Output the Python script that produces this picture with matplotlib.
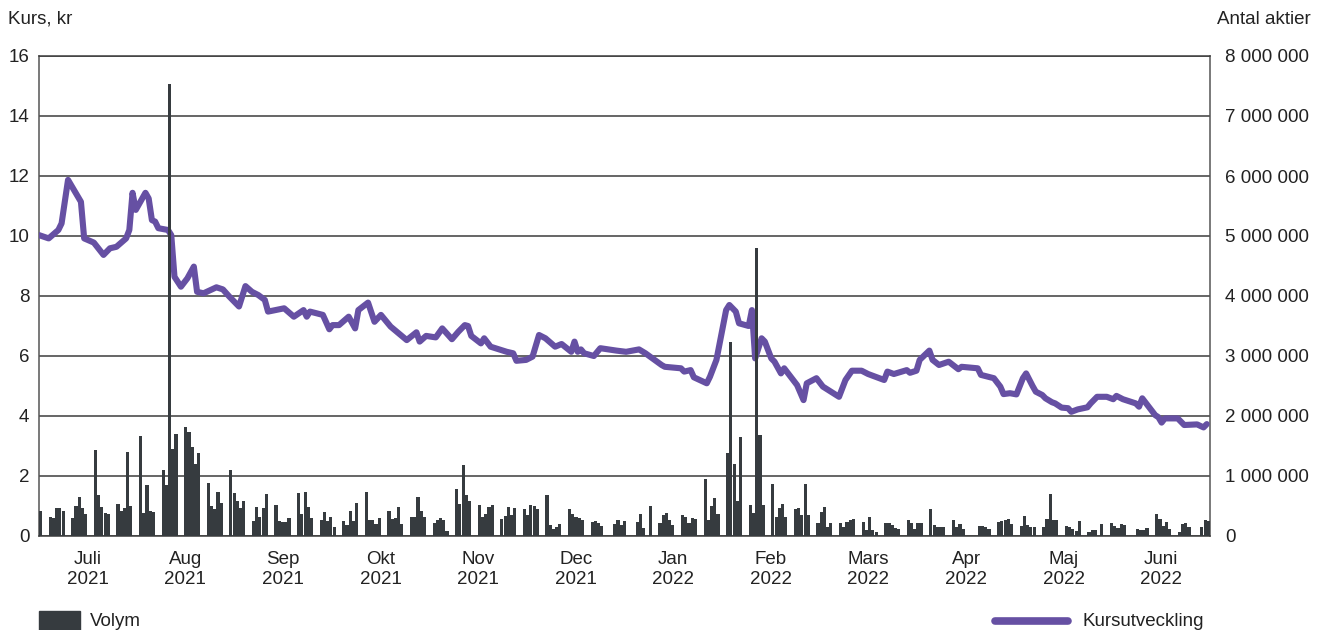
import matplotlib
matplotlib.use('Agg')
import matplotlib.pyplot as plt
import matplotlib.dates as mdates
from matplotlib.ticker import FuncFormatter, MultipleLocator
from matplotlib.patches import Rectangle
from matplotlib.lines import Line2D
import pandas as pd

plt.rcParams['font.family'] = ['Liberation Sans', 'DejaVu Sans']

LILA = '#6650a3'
GRA = '#363b3f'
GRID = '#3c3c3c'

# Handelsdagar (Stockholmsbörsen) och helgdagar då börsen var stängd
start, slut = '2021-07-02', '2022-06-29'
helgdagar = ['2021-12-24', '2021-12-31', '2022-01-06', '2022-04-15',
             '2022-04-18', '2022-05-26', '2022-06-06', '2022-06-24']

# Volym per handelsdag, tusentals aktier
volym_tusen = [
    415,
    310, 300, 460, 460, 425,
    300, 495, 655, 465, 365,
    1435, 685, 485, 385, 370,
    535, 420, 460, 1400, 505,
    1660, 390, 850, 420, 400,
    1100, 850, 7535, 1455, 1700,
    1825, 1735, 1490, 1200, 1380,
    880, 505, 450, 735, 550,
    1100, 710, 590, 460, 580,
    250, 480, 315, 460, 705,
    515, 255, 235, 235, 300,
    710, 360, 735, 480, 300,
    265, 400, 245, 315, 150,
    250, 180, 425, 255, 550,
    730, 260, 275, 205, 300,
    420, 280, 295, 485, 200,
    310, 320, 655, 425, 315,
    215, 260, 300, 265, 80,
    790, 530, 1185, 680, 590,
    515, 315, 370, 490, 515,
    280, 335, 480, 350, 465,
    455, 350, 515, 500, 455,
    685, 185, 115, 150, 195,
    455, 360, 315, 300, 265,
    235, 245, 215, 170,
    195, 260, 190, 250,
    235, 375, 140, 495,
    215, 350, 385, 270, 185,
    345, 315, 215, 295, 285,
    950, 270, 495, 635, 365,
    1385, 3235, 1200, 590, 1655,
    515, 390, 4800, 1685, 515,
    865, 315, 460, 535, 315,
    450, 460, 345, 865, 350,
    215, 400, 490, 150, 215,
    215, 150, 235, 265, 280,
    235, 100, 310, 100, 70,
    215, 215, 185, 135, 110,
    270, 210, 120, 220, 215,
    450, 185, 150, 145, 145,
    265, 150, 200, 120,
    165, 165, 150, 115,
    230, 250, 265, 280, 200,
    165, 340, 185, 150, 150,
    145, 285, 695, 270, 265,
    165, 150, 115, 85, 250,
    65, 95, 100, 200,
    210, 165, 130, 195, 190,
    115, 105, 95, 130,
    365, 290, 165, 235, 120,
    65, 195, 210, 155,
    155, 265, 255,
]

# Kursutveckling, kr
kurs_datum = [
    '2021-07-02', '2021-07-05', '2021-07-08', '2021-07-09', '2021-07-11', '2021-07-15',
    '2021-07-16', '2021-07-19', '2021-07-22', '2021-07-24', '2021-07-26', '2021-07-29',
    '2021-07-30', '2021-07-31', '2021-08-01', '2021-08-04', '2021-08-05', '2021-08-06',
    '2021-08-07', '2021-08-08', '2021-08-11', '2021-08-12', '2021-08-13', '2021-08-15',
    '2021-08-17', '2021-08-19', '2021-08-20', '2021-08-22', '2021-08-26', '2021-08-28',
    '2021-08-30', '2021-09-02', '2021-09-04', '2021-09-06', '2021-09-08', '2021-09-10',
    '2021-09-11', '2021-09-16', '2021-09-19', '2021-09-22', '2021-09-23', '2021-09-24',
    '2021-09-28', '2021-09-30', '2021-10-01', '2021-10-03', '2021-10-06', '2021-10-08',
    '2021-10-09', '2021-10-12', '2021-10-14', '2021-10-16', '2021-10-19', '2021-10-24',
    '2021-10-27', '2021-10-28', '2021-10-30', '2021-11-02', '2021-11-04', '2021-11-07',
    '2021-11-09', '2021-11-11', '2021-11-12', '2021-11-13', '2021-11-16', '2021-11-17',
    '2021-11-19', '2021-11-24', '2021-11-26', '2021-11-27', '2021-11-30', '2021-12-02',
    '2021-12-04', '2021-12-06', '2021-12-09', '2021-12-11', '2021-12-14', '2021-12-15',
    '2021-12-16', '2021-12-17', '2021-12-18', '2021-12-21', '2021-12-23', '2021-12-28',
    '2021-12-31', '2022-01-04', '2022-01-06', '2022-01-11', '2022-01-12', '2022-01-17',
    '2022-01-18', '2022-01-20', '2022-01-21', '2022-01-25', '2022-01-26', '2022-01-28',
    '2022-01-31', '2022-02-01', '2022-02-03', '2022-02-04', '2022-02-07', '2022-02-08',
    '2022-02-09', '2022-02-11', '2022-02-12', '2022-02-14', '2022-02-15', '2022-02-17',
    '2022-02-18', '2022-02-22', '2022-02-24', '2022-02-25', '2022-02-28', '2022-03-02',
    '2022-03-07', '2022-03-09', '2022-03-11', '2022-03-14', '2022-03-16', '2022-03-21',
    '2022-03-22', '2022-03-24', '2022-03-28', '2022-03-29', '2022-03-31', '2022-04-01',
    '2022-04-04', '2022-04-05', '2022-04-07', '2022-04-10', '2022-04-13', '2022-04-14',
    '2022-04-19', '2022-04-20', '2022-04-24', '2022-04-26', '2022-04-27', '2022-04-29',
    '2022-05-01', '2022-05-03', '2022-05-04', '2022-05-06', '2022-05-07', '2022-05-09',
    '2022-05-10', '2022-05-12', '2022-05-13', '2022-05-15', '2022-05-17', '2022-05-18',
    '2022-05-20', '2022-05-23', '2022-05-24', '2022-05-26', '2022-05-29', '2022-05-31',
    '2022-06-01', '2022-06-03', '2022-06-07', '2022-06-08', '2022-06-09', '2022-06-11',
    '2022-06-13', '2022-06-14', '2022-06-15', '2022-06-16', '2022-06-20', '2022-06-22',
    '2022-06-26', '2022-06-28', '2022-06-29',
]
kurs = [
    10.03, 9.92, 10.2, 10.42, 11.87, 11.14,
    9.92, 9.78, 9.37, 9.59, 9.64, 9.92,
    10.2, 11.44, 10.87, 11.44, 11.25, 10.53,
    10.48, 10.26, 10.2, 10.03, 8.64, 8.31,
    8.59, 8.98, 8.14, 8.09, 8.29, 8.22,
    7.98, 7.65, 8.33, 8.14, 8.03, 7.87,
    7.48, 7.59, 7.31, 7.53, 7.31, 7.48,
    7.37, 6.89, 7.03, 7.03, 7.31, 6.92,
    7.53, 7.78, 7.14, 7.37, 6.98, 6.53,
    6.79, 6.48, 6.67, 6.62, 6.92, 6.56,
    6.81, 7.03, 7.0, 6.67, 6.42, 6.59,
    6.31, 6.14, 6.09, 5.84, 5.87, 5.98,
    6.7, 6.59, 6.31, 6.4, 6.14, 6.48,
    6.14, 6.22, 6.09, 6.0, 6.26, 6.18,
    6.14, 6.22, 6.09, 5.7, 5.64, 5.59,
    5.48, 5.53, 5.29, 5.09, 5.31, 5.87,
    7.53, 7.7, 7.48, 7.09, 7.0, 7.53,
    5.92, 6.59, 6.48, 5.92, 5.81, 5.42,
    5.59, 5.03, 4.53, 5.09, 5.26, 4.98,
    4.64, 5.2, 5.51, 5.51, 5.4, 5.2,
    5.48, 5.4, 5.53, 5.44, 5.51, 5.87,
    6.18, 5.87, 5.7, 5.81, 5.56, 5.64,
    5.59, 5.37, 5.26, 4.98, 4.73, 4.76,
    4.72, 5.26, 5.42, 5.0, 4.81, 4.7,
    4.59, 4.46, 4.42, 4.28, 4.26, 4.14,
    4.22, 4.29, 4.42, 4.64, 4.64, 4.56,
    4.67, 4.56, 4.42, 4.31, 4.59, 4.31,
    4.03, 3.96, 3.78, 3.92, 3.92, 3.7,
    3.72, 3.62, 3.73,
]

manader = ['Juli', 'Aug', 'Sep', 'Okt', 'Nov', 'Dec',
           'Jan', 'Feb', 'Mars', 'Apr', 'Maj', 'Juni']
ar = ['2021'] * 6 + ['2022'] * 6

handelsdagar = pd.bdate_range(start, slut, freq='C', holidays=helgdagar)
volym = [v * 1000 for v in volym_tusen]

W, H = 1326, 630
fig = plt.figure(figsize=(W / 100, H / 100), dpi=100)
ax = fig.add_axes([39 / W, 1 - 536 / H, (1210 - 39) / W, (536 - 56) / H])
ax2 = ax.twinx()

ax.plot(pd.to_datetime(kurs_datum), kurs, color=LILA, lw=4.4,
        solid_joinstyle='round', solid_capstyle='round', zorder=3)
ax2.bar(handelsdagar, volym, width=0.97, align='edge', color=GRA, zorder=2)

x0, x1 = mdates.date2num(pd.Timestamp('2021-07-02')), mdates.date2num(pd.Timestamp('2022-06-30'))
ax.set_xlim(x0, x1)
ax.set_ylim(0, 16)
ax2.set_ylim(0, 8_000_000)
ax.yaxis.set_major_locator(MultipleLocator(2))
ax2.yaxis.set_major_locator(MultipleLocator(1_000_000))
ax2.yaxis.set_major_formatter(FuncFormatter(lambda v, _: f'{int(v):,}'.replace(',', ' ')))

steg = (x1 - x0) / 12
ax.set_xticks([x0 + (i + 0.5) * steg for i in range(12)])
ax.set_xticklabels([f'{m}\n{a}' for m, a in zip(manader, ar)], linespacing=1.2)

ax.grid(axis='y', color=GRID, lw=1.1)
ax.tick_params(axis='y', length=0, pad=7, labelsize=13.5, labelcolor='#222')
ax.tick_params(axis='x', length=0, pad=11, labelsize=13.5, labelcolor='#222')
ax2.tick_params(axis='y', length=0, pad=11, labelsize=13.5, labelcolor='#222')

for s in ['top', 'bottom']:
    ax.spines[s].set_color(GRID)
    ax.spines[s].set_linewidth(1.1)
for s in ['left', 'right']:
    ax.spines[s].set_color('#555555')
    ax.spines[s].set_linewidth(1.1)
for s in ax2.spines.values():
    s.set_visible(False)

fig.text(8 / W, 1 - 19 / H, 'Kurs, kr', ha='left', va='center', fontsize=13.5, color='#222')
fig.text(1311 / W, 1 - 19 / H, 'Antal aktier', ha='right', va='center', fontsize=13.5, color='#222')

# Förklaring längst ned
fig.patches.append(Rectangle((39 / W, -0.01), 41 / W, 0.01 + (630 - 611) / H,
                             transform=fig.transFigure, color=GRA))
fig.text(90 / W, 1 - 621 / H, 'Volym', ha='left', va='center', fontsize=13.5, color='#222')
fig.lines.append(Line2D([995 / W, 1068 / W], [1 - 621 / H] * 2, transform=fig.transFigure,
                        color=LILA, lw=5.5, solid_capstyle='round'))
fig.text(1082 / W, 1 - 621 / H, 'Kursutveckling', ha='left', va='center', fontsize=13.5, color='#222')

fig.savefig('out.png', dpi=100)
